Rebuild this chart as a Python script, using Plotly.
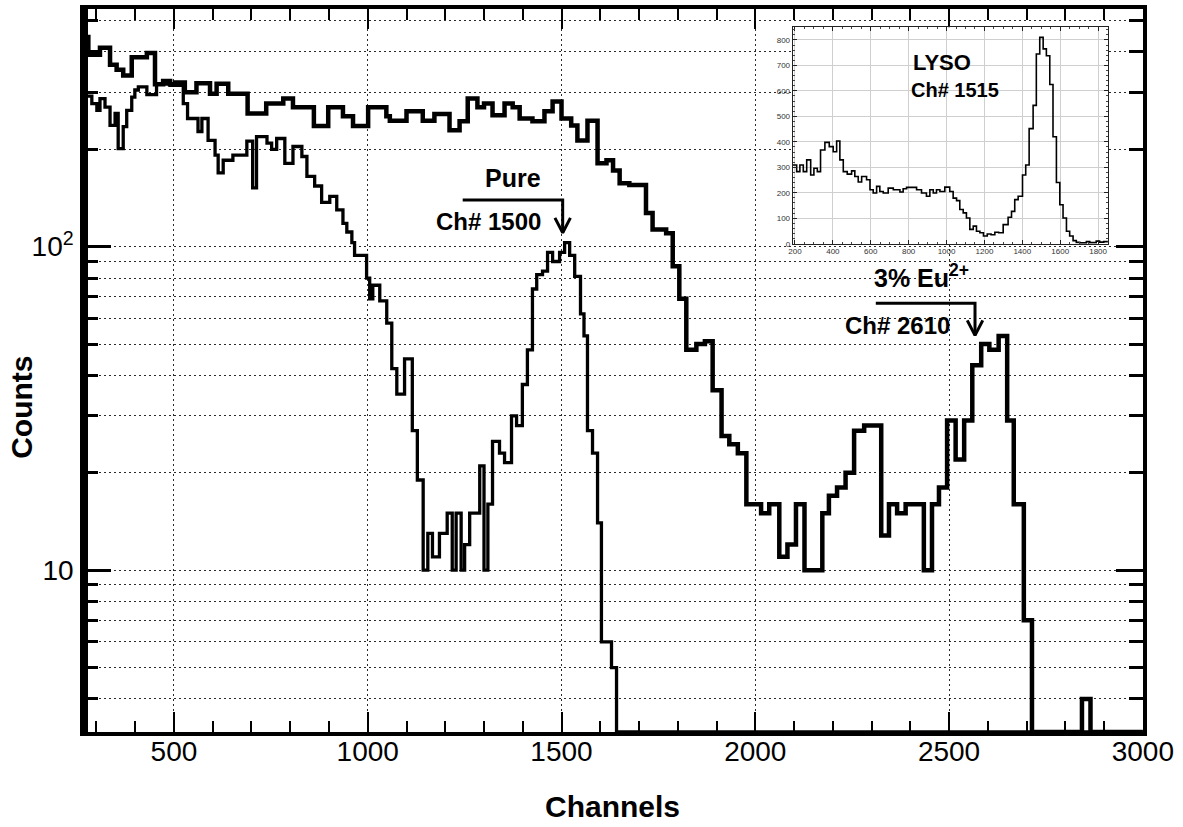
import numpy as np
import plotly.graph_objects as go

# ---------------- data ----------------
# 3% Eu2+ doped spectrum: bin edges (channels) and counts
eu_edges = [257, 279, 309, 335, 352, 369, 391, 430, 451, 472, 490, 503, 528, 558, 593, 610, 640, 690, 738, 782,
            807, 861, 898, 936, 962, 1001, 1048, 1057, 1100, 1142, 1172, 1211, 1237, 1258, 1283, 1300, 1322, 1353,
            1374, 1392, 1425, 1456, 1477, 1500, 1525, 1541, 1567, 1593, 1616, 1633, 1650, 1675, 1718, 1735, 1770,
            1787, 1804, 1822, 1848, 1870, 1890, 1913, 1933, 1955, 1977, 2015, 2036, 2062, 2083, 2105, 2127, 2173,
            2190, 2211, 2233, 2255, 2281, 2325, 2345, 2366, 2388, 2435, 2456, 2474, 2495, 2517, 2539, 2560, 2583,
            2604, 2628, 2650, 2667, 2693, 2714, 2843, 2865, 3000]
eu_counts = [445, 392, 412, 365, 352, 338, 385, 397, 318, 325, 318, 322, 300, 320, 297, 319, 297, 258, 277, 287,
             270, 236, 270, 253, 236, 270, 253, 245, 262, 245, 257, 229, 244, 287, 270, 277, 255, 277, 270, 249,
             244, 262, 281, 249, 237, 213, 245, 181, 185, 172, 157, 155, 127, 113, 110, 87, 69, 48, 50, 51,
             36, 26, 24.5, 23, 16, 15, 16, 11, 12, 16, 10, 15, 17, 18, 20, 27, 28, 12.8, 16, 15,
             16, 10, 16, 18, 29, 22, 29, 43, 50, 48, 53, 29, 16, 7, 0, 4, 0]

# Pure (undoped) spectrum
pure_edges = [257, 288, 301, 309, 322, 335, 348, 356, 369, 378, 391, 399, 408, 430, 455, 490, 524, 535, 562, 572,
              588, 606, 614, 627, 652, 688, 703, 713, 740, 752, 765, 786, 807, 830, 843, 863, 881, 902, 920, 936,
              946, 959, 966, 997, 1005, 1013, 1031, 1049, 1062, 1075, 1095, 1115, 1128, 1143, 1155, 1167, 1185,
              1205, 1218, 1228, 1241, 1250, 1263, 1289, 1300, 1310, 1322, 1340, 1353, 1371, 1384, 1399, 1412,
              1425, 1436, 1451, 1464, 1477, 1495, 1508, 1521, 1534, 1549, 1558, 1567, 1580, 1593, 1603, 1629,
              1642, 3000]
pure_counts = [292, 277, 264, 287, 270, 237, 258, 201, 235, 264, 290, 305, 312, 295, 318, 315, 277, 249, 227, 249,
               213, 192, 169, 185, 192, 212, 152, 219, 209, 200, 216, 181, 204, 190, 165, 154, 137, 143, 130, 118,
               111, 103, 94, 80, 69, 76, 68, 58, 42, 35, 45, 27, 19, 10, 13, 11, 13, 15, 10, 15,
               10, 12, 15, 21, 10, 16, 25, 23, 21.5, 30, 28, 37.5, 48, 74, 82, 84, 96, 90, 96, 103,
               94, 81, 62, 53, 27, 23, 14, 6, 5, 0]

# LYSO reference spectrum (inset, linear scale)
lyso_edges = [188, 209, 226, 244, 262, 283, 300, 318, 335, 358, 381, 402, 420, 437, 455, 476, 499, 516, 534, 552,
              578, 596, 613, 631, 648, 666, 692, 719, 754, 771, 789, 842, 868, 894, 912, 930, 947, 965, 991, 1017,
              1035, 1053, 1070, 1088, 1105, 1123, 1141, 1158, 1176, 1195, 1215, 1235, 1255, 1275, 1299, 1325,
              1343, 1360, 1378, 1401, 1418, 1436, 1457, 1474, 1492, 1510, 1527, 1545, 1562, 1580, 1598, 1615,
              1633, 1650, 1668, 1685, 1703, 1738, 1756, 1790, 1808, 1830, 1852]
lyso_counts = [309, 283, 309, 283, 329, 270, 296, 283, 368, 398, 381, 361, 403, 329, 283, 273, 286, 264, 242, 264,
               251, 212, 199, 225, 205, 199, 218, 212, 203, 216, 221, 212, 199, 186, 212, 199, 212, 205, 222, 205,
               179, 169, 134, 121, 101, 56, 69, 49, 43, 30, 38, 35, 45, 43, 75, 104, 127, 173, 186, 270,
               309, 452, 543, 745, 810, 765, 738, 625, 420, 240, 153, 101, 49, 30, 12, 5, 3, 8, 4, 10, 6, 8]

# axis ticks
x_major = [500, 1000, 1500, 2000, 2500, 3000]
y_major = [10, 100]
y_major_text = ["10", "10<sup>2</sup>"]
y_minor = [4, 5, 6, 7, 8, 9, 20, 30, 40, 50, 60, 70, 80, 90, 200, 300, 400, 500]

# peak annotations (channel, label)
pure_peak_ch = 1503
eu_peak_ch = 2567

# ---------------- figure ----------------
FONT = "Liberation Sans, Arial, Helvetica, sans-serif"
Y_LOG_RANGE = [0.4998, 2.7347]
floor_val = 10 ** Y_LOG_RANGE[0]


def step_xy(edges, counts, floor=None):
    c = list(counts)
    if floor is not None:
        c = [v if v > 0 else floor for v in c]
    return list(edges), c + [c[-1]]


fig = go.Figure()

ex, ey = step_xy(eu_edges, eu_counts, floor_val)
fig.add_trace(go.Scatter(x=ex, y=ey, mode="lines", line=dict(shape="hv", color="black", width=4.5),
                         xaxis="x", yaxis="y", hoverinfo="skip"))
px_, py_ = step_xy(pure_edges, pure_counts, floor_val)
fig.add_trace(go.Scatter(x=px_, y=py_, mode="lines", line=dict(shape="hv", color="black", width=3.3),
                         xaxis="x", yaxis="y", hoverinfo="skip"))


# arrows pointing to the peaks (bent line + open arrow head)
def add_arrow(x_start, x_tip, y_h, y_tip, head_dx, head_f):
    fig.add_trace(go.Scatter(x=[x_start, x_tip, x_tip], y=[y_h, y_h, y_tip], mode="lines",
                             line=dict(color="black", width=3), hoverinfo="skip"))
    fig.add_trace(go.Scatter(x=[x_tip - head_dx, x_tip, x_tip + head_dx],
                             y=[y_tip * head_f, y_tip, y_tip * head_f], mode="lines",
                             line=dict(color="black", width=3), hoverinfo="skip"))


add_arrow(1245, pure_peak_ch, 139.5, 110.4, 20, 1.112)
add_arrow(2311, eu_peak_ch, 66.9, 53.2, 20, 1.112)

# inset
lx, ly = step_xy(lyso_edges, lyso_counts)
fig.add_trace(go.Scatter(x=lx, y=ly, mode="lines", line=dict(shape="hv", color="black", width=1.6),
                         xaxis="x2", yaxis="y2", hoverinfo="skip"))

grid_style = dict(gridcolor="#2a2a2a", griddash="2px,3px", gridwidth=1.2)

fig.update_layout(
    width=1183, height=827,
    margin=dict(l=84, r=40, t=5, b=95),
    paper_bgcolor="white", plot_bgcolor="white",
    showlegend=False,
    font=dict(family=FONT, color="black"),
    xaxis=dict(
        range=[267.8, 3000.5], tickmode="array", tickvals=x_major,
        ticks="inside", ticklen=20, tickwidth=2, tickcolor="black",
        showline=True, linewidth=4, linecolor="black", mirror="allticks",
        showgrid=True, zeroline=False, tickfont=dict(size=28, family=FONT, color="black"),
        minor=dict(dtick=100, tick0=0, ticks="inside", ticklen=11, tickwidth=2, tickcolor="black", showgrid=False),
        ticklabelstandoff=-9,
        **grid_style,
    ),
    yaxis=dict(
        type="log", range=Y_LOG_RANGE, tickmode="array", tickvals=y_major, ticktext=y_major_text,
        ticks="inside", ticklen=27, tickwidth=3, tickcolor="black",
        showline=True, linewidth=3.5, linecolor="black", mirror="allticks",
        showgrid=True, zeroline=False, tickfont=dict(size=28, family=FONT, color="black"),
        minor=dict(tickvals=y_minor, ticks="inside", ticklen=14, tickwidth=3, tickcolor="black",
                   showgrid=True, **grid_style),
        ticklabelstandoff=1,
        **grid_style,
    ),
    xaxis2=dict(
        domain=[0.6692, 0.9669], anchor="y2", range=[188, 1852],
        tickmode="linear", tick0=200, dtick=200,
        ticks="inside", ticklen=4, tickwidth=1, tickcolor="#222",
        showline=True, linewidth=1, linecolor="#222", mirror="allticks",
        showgrid=True, gridcolor="#cfcfcf", gridwidth=1, zeroline=False,
        tickfont=dict(size=8, family=FONT, color="#333"),
        minor=dict(dtick=50, ticks="inside", ticklen=2, tickcolor="#444", showgrid=False),
        ticklabelstandoff=0,
    ),
    yaxis2=dict(
        domain=[0.6754, 0.9748], anchor="x2", range=[0, 850],
        tickmode="linear", tick0=0, dtick=100,
        ticks="inside", ticklen=4, tickwidth=1, tickcolor="#222",
        showline=True, linewidth=1, linecolor="#222", mirror="allticks",
        showgrid=True, gridcolor="#cfcfcf", gridwidth=1, zeroline=False,
        tickfont=dict(size=8, family=FONT, color="#333"),
        minor=dict(dtick=20, ticks="inside", ticklen=2, tickcolor="#444", showgrid=False),
        ticklabelstandoff=0,
    ),
)

# white panel behind the inset (hides main grid)
fig.add_shape(type="rect", xref="x2 domain", yref="y2 domain", x0=-0.0752, x1=1.0285, y0=-0.0551, y1=1.0198,
              fillcolor="white", line=dict(width=0), layer="below")
# thick left frame line
fig.add_shape(type="line", xref="paper", yref="paper", x0=0, x1=0, y0=0, y1=1,
              line=dict(color="black", width=8), layer="above")

bold = dict(family=FONT, color="black")
ann = dict(showarrow=False, xanchor="center", yanchor="middle")
fig.add_annotation(text="<b>Pure</b>", x=1374.5, y=2.212, xref="x", yref="y", font=dict(size=25, **bold), **ann)
fig.add_annotation(text="<b>Ch# 1500</b>", x=1312.6, y=2.077, xref="x", yref="y", font=dict(size=24, **bold), **ann)
fig.add_annotation(text="<b>3% Eu<sup>2+</sup></b>", x=2429.6, y=1.91, xref="x", yref="y",
                   font=dict(size=25, **bold), **ann)
fig.add_annotation(text="<b>Ch# 2610</b>", x=2367.7, y=1.7556, xref="x", yref="y", font=dict(size=24, **bold), **ann)
fig.add_annotation(text="<b>LYSO</b>", x=975, y=710, xref="x2", yref="y2", font=dict(size=22, **bold), **ann)
fig.add_annotation(text="<b>Ch# 1515</b>", x=1044, y=605, xref="x2", yref="y2", font=dict(size=20, **bold), **ann)
# axis titles
fig.add_annotation(text="<b>Counts</b>", x=-0.0585, y=0.4484, xref="paper", yref="paper",
                   textangle=-90, font=dict(size=30, **bold), **ann)
fig.add_annotation(text="<b>Channels</b>", x=0.4995, y=-0.1032, xref="paper", yref="paper",
                   font=dict(size=30, **bold), **ann)

fig.write_html("out.html")
